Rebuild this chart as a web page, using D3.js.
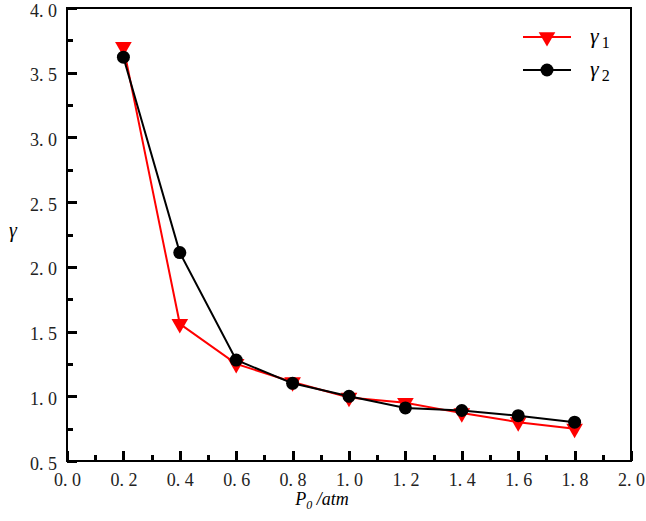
<!DOCTYPE html>
<html><head><meta charset="utf-8">
<script src="https://cdn.jsdelivr.net/npm/d3@7"></script>
<style>
body{margin:0;background:#fff;}
svg text{font-family:"Liberation Serif","Times New Roman",serif !important;}
</style></head>
<body><svg id="c" width="646" height="521"></svg>
<script>
const xVals=[0.2,0.4,0.6,0.8,1.0,1.2,1.4,1.6,1.8];
const gamma1=[3.70,1.56,1.25,1.11,0.99,0.95,0.87,0.80,0.75];
const gamma2=[3.62,2.11,1.28,1.10,1.00,0.91,0.89,0.85,0.80];
const xTicks=[0.0,0.2,0.4,0.6,0.8,1.0,1.2,1.4,1.6,1.8,2.0];
const yTicks=[0.5,1.0,1.5,2.0,2.5,3.0,3.5,4.0];
const xMinor=[0.1,0.3,0.5,0.7,0.9,1.1,1.3,1.5,1.7,1.9];
const yMinor=[0.75,1.25,1.75,2.25,2.75,3.25,3.75];
const seriesNames=["γ1","γ2"];

const FONT="Liberation Serif, Times New Roman, serif";
const svg=d3.select("#c");
const L=67,R=631,T=8,B=461;
const x=d3.scaleLinear().domain([0,2]).range([L,R]);
const y=d3.scaleLinear().domain([0.5,4]).range([B,T]);

const fmt=d=>d.toFixed(1).replace(".",". ");

const xa=svg.append("g").attr("transform",`translate(0,${B})`)
  .call(d3.axisBottom(x).tickValues(xTicks).tickSize(0).tickFormat(fmt));
xa.attr("font-family",FONT);
xa.select(".domain").remove();
xa.selectAll(".tick line").remove();
xa.selectAll(".tick text").attr("y",12).attr("font-size",18).attr("fill","#222");

const ya=svg.append("g").attr("transform",`translate(${L},0)`)
  .call(d3.axisLeft(y).tickValues(yTicks).tickSize(0).tickFormat(fmt));
ya.attr("font-family",FONT);
ya.select(".domain").remove();
ya.selectAll(".tick line").remove();
ya.selectAll(".tick text").attr("x",-10).attr("dy","0.45em").attr("font-size",18).attr("fill","#222");

// frame
svg.append("rect").attr("x",L).attr("y",T).attr("width",R-L).attr("height",B-T)
  .attr("fill","none").attr("stroke","#000").attr("stroke-width",2.5)
  .attr("shape-rendering","crispEdges");

// inward tick marks
const tg=svg.append("g").attr("fill","#000").attr("shape-rendering","crispEdges");
xTicks.forEach(v=>tg.append("rect").attr("x",Math.round(x(v))-1).attr("y",B-10).attr("width",3).attr("height",10));
xMinor.forEach(v=>tg.append("rect").attr("x",Math.round(x(v))-1).attr("y",B-6).attr("width",3).attr("height",6));
yTicks.forEach(v=>tg.append("rect").attr("x",L).attr("y",Math.round(y(v))-1).attr("width",10).attr("height",3));
yMinor.forEach(v=>tg.append("rect").attr("x",L).attr("y",Math.round(y(v))-1).attr("width",6).attr("height",3));

// labels
svg.append("text").attr("x",13).attr("y",237).attr("font-family",FONT).attr("font-size",20).attr("font-style","italic")
  .attr("text-anchor","middle").text("γ");
const xl=svg.append("text").attr("x",322).attr("y",505).attr("font-family",FONT).attr("font-size",18).attr("font-style","italic").attr("text-anchor","middle");
xl.append("tspan").text("P");
xl.append("tspan").attr("font-size",12).attr("dy",4).text("0");
xl.append("tspan").attr("dy",-4).text(" /atm");

const line=d3.line().x((d,i)=>x(xVals[i])).y(d=>y(d));
const tri=d3.symbol().type(d3.symbolTriangle).size(120);

function drawSeries(vals,color,kind){
  svg.append("path").datum(vals).attr("d",line).attr("fill","none").attr("stroke",color).attr("stroke-width",2);
  const g=svg.append("g");
  vals.forEach((v,i)=>{
    if(kind==="tri") g.append("path").attr("d",tri()).attr("fill",color)
      .attr("transform",`translate(${x(xVals[i])},${y(v)}) rotate(180)`);
    else g.append("circle").attr("cx",x(xVals[i])).attr("cy",y(v)).attr("r",6.5).attr("fill",color);
  });
}
drawSeries(gamma1,"#ff0000","tri");
drawSeries(gamma2,"#000000","circ");

// legend
const lg=[{c:"#ff0000",k:"tri",y:37,sub:"1"},{c:"#000000",k:"circ",y:70,sub:"2"}];
lg.forEach((d,i)=>{
  svg.append("line").attr("x1",523).attr("x2",571).attr("y1",d.y).attr("y2",d.y).attr("stroke",d.c).attr("stroke-width",2);
  if(d.k==="tri") svg.append("path").attr("d",tri()).attr("fill",d.c).attr("transform",`translate(547,${d.y}) rotate(180)`);
  else svg.append("circle").attr("cx",547).attr("cy",d.y).attr("r",6.5).attr("fill",d.c);
  const t=svg.append("text").attr("x",590).attr("y",d.y+6).attr("font-family",FONT).attr("font-size",22).attr("font-style","italic");
  t.append("tspan").text(seriesNames[i].charAt(0));
  t.append("tspan").attr("font-style","normal").attr("font-size",16).attr("dx",3).attr("dy",5).text(d.sub);
});
</script></body></html>
